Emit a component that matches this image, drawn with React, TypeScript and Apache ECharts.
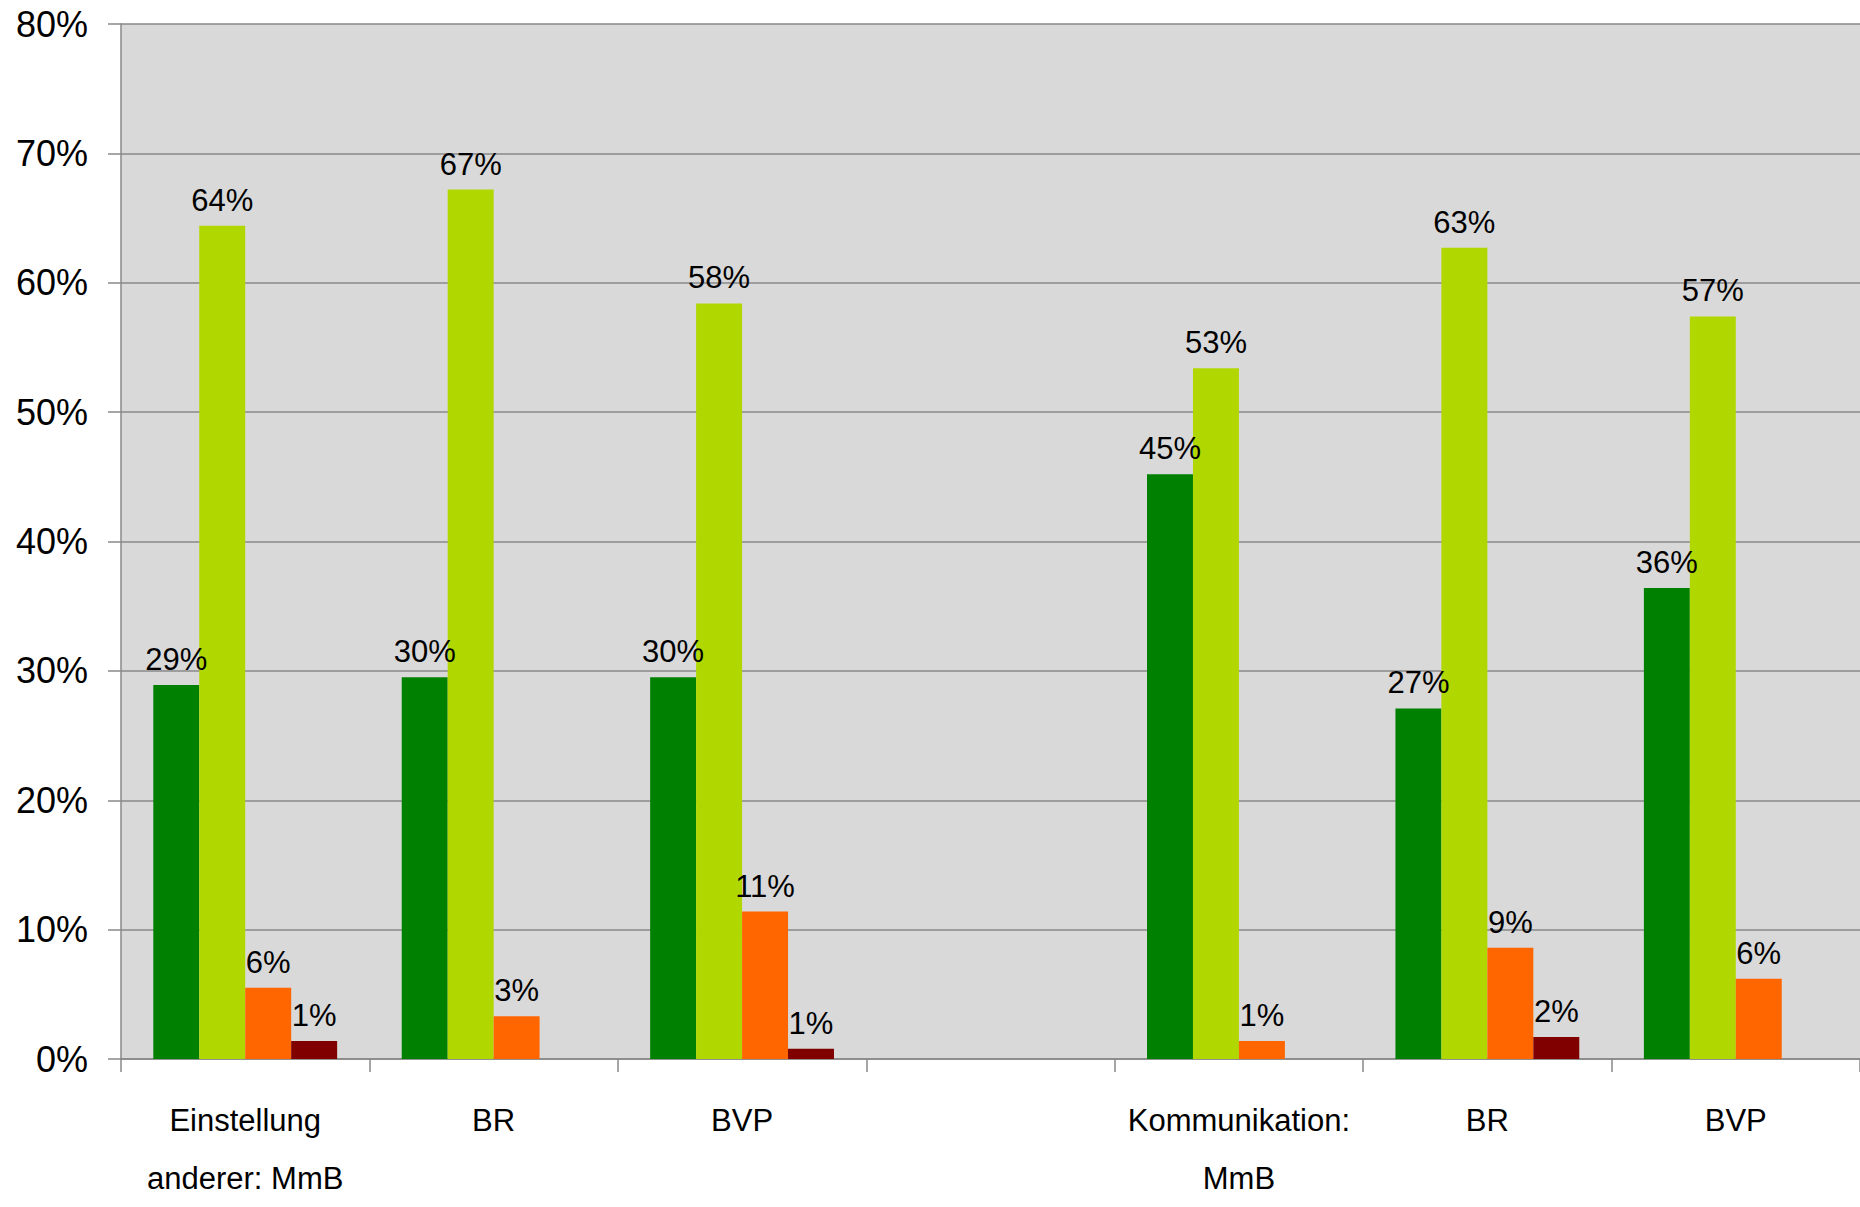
import React, { useEffect, useRef } from "react";
import * as echarts from "echarts";

const categories = [
  "Einstellung\nanderer: MmB",
  "BR",
  "BVP",
  "",
  "Kommunikation:\nMmB",
  "BR",
  "BVP",
];

const seriesDarkGreen = [28.9, 29.5, 29.5, null, 45.2, 27.1, 36.4];
const seriesLightGreen = [64.4, 67.2, 58.4, null, 53.4, 62.7, 57.4];
const seriesOrange = [5.5, 3.3, 11.4, null, 1.4, 8.6, 6.2];
const seriesDarkRed = [1.4, null, 0.8, null, null, 1.7, null];

const yTicks = { min: 0, max: 80, interval: 10 };

const colors = ["#008000", "#b0d800", "#ff6600", "#800000"];

const FONT = "'Liberation Sans', Arial, sans-serif";

export default function App() {
  const ref = useRef<HTMLDivElement>(null);

  useEffect(() => {
    if (!ref.current) return;
    const chart = echarts.init(ref.current, undefined, { renderer: "svg" });
    const mk = (name: string, data: (number | null)[], color: string) => ({
      name,
      type: "bar",
      data,
      barGap: "0%",
      barCategoryGap: "26%",
      itemStyle: { color },
      label: {
        show: true,
        position: "top",
        distance: 10,
        color: "#000",
        fontFamily: FONT,
        fontSize: 31,
        formatter: (p: any) =>
          p.value == null ? "" : Math.round(p.value) + "%",
      },
    });
    chart.setOption({
      animation: false,
      backgroundColor: "#ffffff",
      grid: {
        left: 121,
        right: 0,
        top: 24,
        bottom: 135,
        show: true,
        backgroundColor: "#d9d9d9",
        borderWidth: 0,
      },
      xAxis: {
        type: "category",
        data: categories,
        axisLine: { show: true, lineStyle: { color: "#888888", width: 1.5 } },
        axisTick: {
          show: true,
          length: 13,
          lineStyle: { color: "#888888", width: 1.5 },
        },
        axisLabel: {
          interval: 0,
          margin: 32,
          color: "#000",
          fontFamily: FONT,
          fontSize: 31,
          lineHeight: 58,
        },
      },
      yAxis: {
        type: "value",
        min: yTicks.min,
        max: yTicks.max,
        interval: yTicks.interval,
        axisLine: { show: true, lineStyle: { color: "#888888", width: 1.5 } },
        axisTick: {
          show: true,
          length: 13,
          lineStyle: { color: "#888888", width: 1.5 },
        },
        splitLine: { show: true, lineStyle: { color: "#888888", width: 1.5 } },
        axisLabel: {
          formatter: "{value}%",
          margin: 33,
          color: "#000",
          fontFamily: FONT,
          fontSize: 36,
        },
      },
      series: [
        mk("A", seriesDarkGreen, colors[0]),
        mk("B", seriesLightGreen, colors[1]),
        mk("C", seriesOrange, colors[2]),
        mk("D", seriesDarkRed, colors[3]),
      ],
    });
    return () => chart.dispose();
  }, []);

  return (
    <div
      ref={ref}
      style={{ position: "fixed", left: 0, top: 0, width: 1860, height: 1207 }}
    />
  );
}
